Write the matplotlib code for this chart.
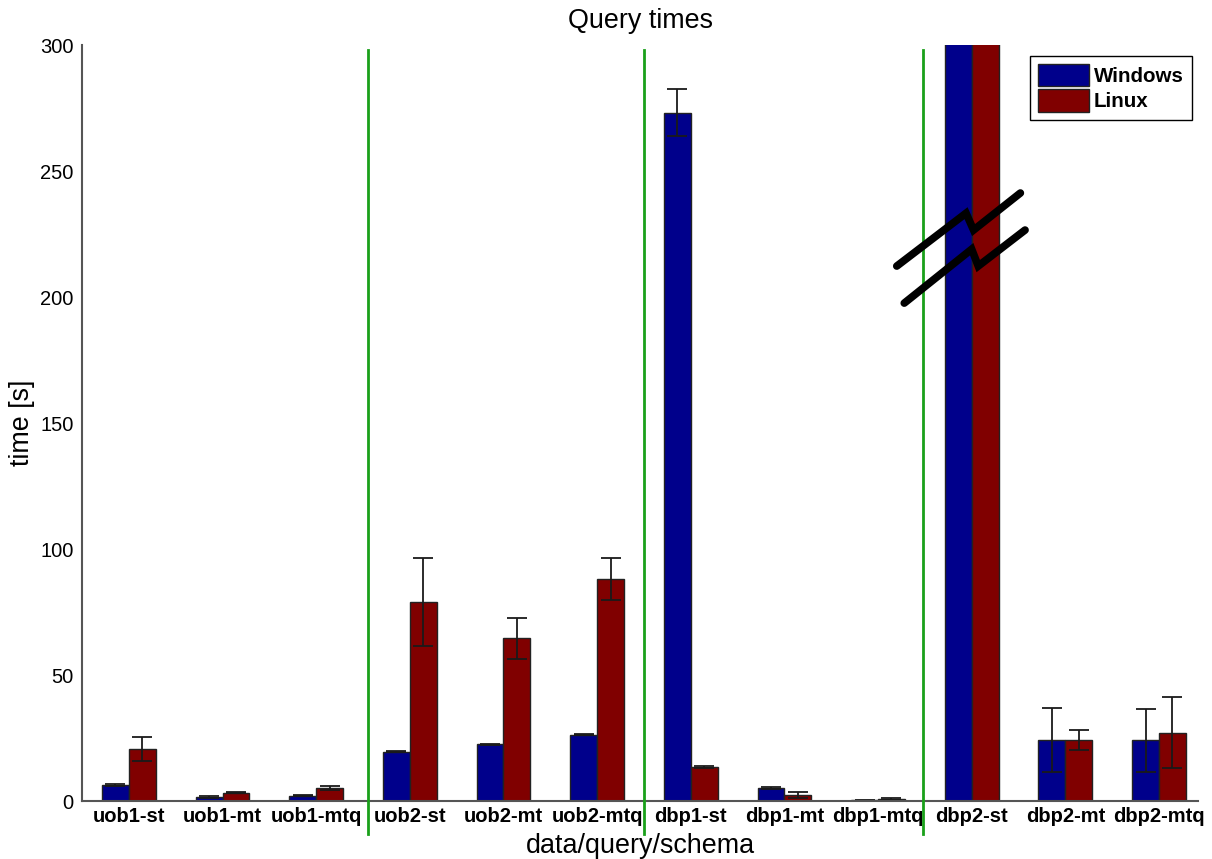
"""Query times: Windows vs Linux, grouped bars with error bars."""
import matplotlib
matplotlib.use("Agg")
import matplotlib.pyplot as plt
import numpy as np

plt.rcParams["font.family"] = ["Liberation Sans", "DejaVu Sans"]

categories = ["uob1-st", "uob1-mt", "uob1-mtq", "uob2-st", "uob2-mt", "uob2-mtq",
              "dbp1-st", "dbp1-mt", "dbp1-mtq", "dbp2-st", "dbp2-mt", "dbp2-mtq"]
windows = [6.3, 1.5, 2.1, 19.6, 22.5, 26.3, 273.1, 5.0, 0.3, 3000.0, 24.2, 24.1]
windows_err = [0.5, 0.3, 0.2, 0.2, 0.3, 0.2, 9.3, 0.4, 0.1, 0.0, 12.8, 12.4]
linux = [20.6, 3.3, 5.2, 79.0, 64.5, 88.0, 13.5, 2.4, 0.8, 3000.0, 24.1, 27.1]
linux_err = [4.7, 0.3, 0.9, 17.5, 8.2, 8.3, 0.3, 1.2, 0.2, 0.0, 4.0, 14.1]
separators = [3.55, 6.5, 9.48]

BLUE = "#00008b"
RED = "#800000"
GREEN = "#1aa01a"

fig = plt.figure(figsize=(12.12, 8.59), dpi=100)
ax = fig.add_axes([0.0677, 0.0675, 0.921, 0.880])

x = np.arange(1, len(categories) + 1)
w = 0.287
err_kw = dict(ecolor="#1a1a1a", elinewidth=1.3, capsize=7.5, capthick=1.3)
ax.bar(x - w / 2, windows, w, yerr=windows_err, color=BLUE, edgecolor="#222222",
       linewidth=1.0, label="Windows", error_kw=err_kw)
ax.bar(x + w / 2, linux, w, yerr=linux_err, color=RED, edgecolor="#222222",
       linewidth=1.0, label="Linux", error_kw=err_kw)

for s in separators:
    ax.plot([s, s], [-13, 298], color=GREEN, lw=2, clip_on=False, zorder=3)

# axis break marks on dbp2-st
for xs, ys in [([9.20, 9.94, 10.02, 10.52], [212.3, 233.3, 226.6, 241.3]),
               ([9.28, 10.00, 10.07, 10.57], [197.6, 219.0, 212.3, 226.6])]:
    ax.plot(xs, ys, color="black", lw=5.5, solid_capstyle="round",
            solid_joinstyle="miter", zorder=5)

ax.set_xlim(0.5, 12.42)
ax.set_ylim(0, 300)
ax.set_yticks(np.arange(0, 301, 50))
ax.set_xticks(x)
ax.set_xticklabels(categories, fontsize=14.5, fontweight="bold")
for lab in ax.get_yticklabels():
    lab.set_fontsize(14.5)
ax.tick_params(length=0, pad=4)
ax.tick_params(axis="y", pad=6)

for side in ["top", "right"]:
    ax.spines[side].set_visible(False)
for side in ["left", "bottom"]:
    ax.spines[side].set_color("#555555")
    ax.spines[side].set_linewidth(1.5)

ax.set_title("Query times", fontsize=19.4, pad=12)
ax.set_xlabel("data/query/schema", fontsize=19.4, labelpad=5)
ax.set_ylabel("time [s]", fontsize=19.4, labelpad=4)

leg = ax.legend(loc="upper right", bbox_to_anchor=(0.994, 0.986),
                prop={"weight": "bold", "size": 14.8}, fancybox=False,
                edgecolor="black", framealpha=1, handlelength=2.5, handleheight=1.3,
                handletextpad=0.2, borderpad=0.4, labelspacing=0.15,
                borderaxespad=0)
leg.get_frame().set_linewidth(1.0)

fig.savefig("out.png", dpi=100)
